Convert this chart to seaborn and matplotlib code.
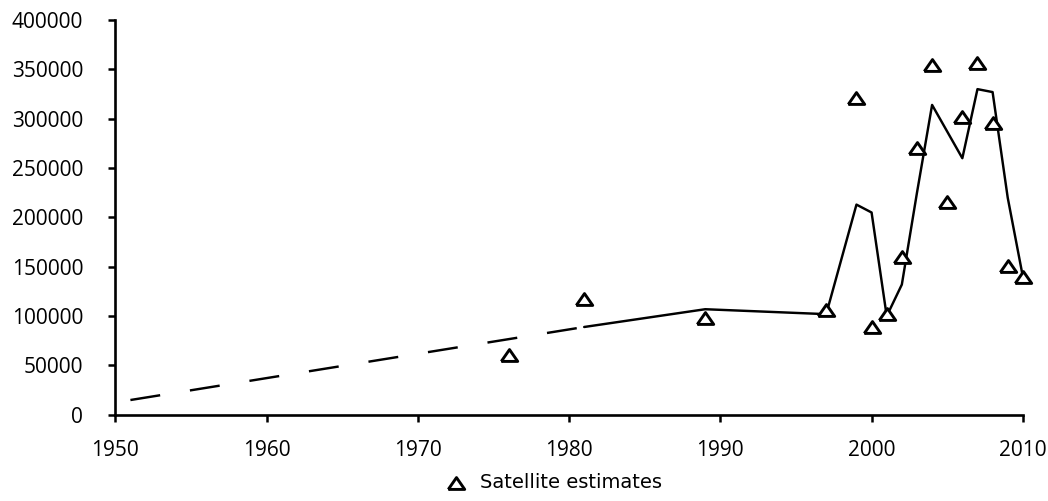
import pandas as pd
import matplotlib.pyplot as plt
import seaborn as sns

# Satellite estimates (triangles)
sat_years = [1976, 1981, 1989, 1997, 1999, 2000, 2001, 2002, 2003, 2004, 2005, 2006, 2007, 2008, 2009, 2010]
sat_values = [61000, 117000, 98000, 106000, 321000, 89000, 102000, 160000,
              270000, 354000, 216000, 302000, 356000, 296000, 151000, 140000]

# Dashed part of the trend line
dash_years = [1951, 1981]
dash_values = [15000, 89000]

# Solid part of the trend line
solid_years = [1981, 1989, 1997, 1999, 2000, 2001, 2002, 2003, 2004, 2005, 2006, 2007, 2008, 2009, 2010]
solid_values = [89000, 107000, 102000, 213000, 205000, 100000, 132000, 225000,
                314000, 287000, 260000, 330000, 327000, 220000, 140000]

x_ticks = [1950, 1960, 1970, 1980, 1990, 2000, 2010]
y_ticks = [0, 50000, 100000, 150000, 200000, 250000, 300000, 350000, 400000]


def plot_estimates(save_path='out.png'):
    sns.set_style('white')
    plt.rcParams['font.family'] = ['Open Sans', 'DejaVu Sans']
    plt.rcParams['text.color'] = 'black'
    plt.rcParams['xtick.color'] = 'black'
    plt.rcParams['ytick.color'] = 'black'

    fig = plt.figure(figsize=(10.48, 5.01), dpi=100)
    ax = fig.add_axes([0.110, 0.172, 0.866, 0.788])

    dash_df = pd.DataFrame({'year': dash_years, 'value': dash_values})
    solid_df = pd.DataFrame({'year': solid_years, 'value': solid_values})
    sat_df = pd.DataFrame({'year': sat_years, 'value': sat_values})

    sns.lineplot(data=dash_df, x='year', y='value', ax=ax, color='black',
                 linewidth=1.75, linestyle=(0, (12.4, 12.4)))
    sns.lineplot(data=solid_df, x='year', y='value', ax=ax, color='black',
                 linewidth=1.75)

    # wider-than-tall open triangle
    tri = [(-1, -0.72), (1, -0.72), (0, 0.72), (-1, -0.72)]
    sns.scatterplot(data=sat_df, x='year', y='value', ax=ax, marker=tri,
                    s=140, facecolor='white', edgecolor='black', linewidth=2.1,
                    clip_on=False, zorder=3, label='Satellite estimates')

    ax.set_xlim(1950, 2010)
    ax.set_ylim(0, 400000)
    ax.set_xticks(x_ticks)
    ax.set_yticks(y_ticks)
    ax.set_xlabel('')
    ax.set_ylabel('')
    ax.tick_params(axis='both', labelsize=15, direction='out', length=5,
                   width=1.8, colors='black', bottom=True, left=True)
    ax.tick_params(axis='x', pad=13)
    ax.tick_params(axis='y', pad=18)
    for side in ['top', 'right']:
        ax.spines[side].set_visible(False)
    for side in ['left', 'bottom']:
        ax.spines[side].set_color('black')
        ax.spines[side].set_linewidth(1.9)

    handles, labels = ax.get_legend_handles_labels()
    ax.get_legend().remove()
    fig.legend(handles, labels, loc='center', bbox_to_anchor=(0.524, 0.036),
               frameon=False, handletextpad=0.25, borderaxespad=0,
               prop={'family': 'DejaVu Sans', 'size': 14})

    if save_path:
        plt.savefig(save_path, dpi=100)
        print(f"Saved: {save_path}")
    else:
        plt.show()


if __name__ == "__main__":
    plot_estimates('out.png')
